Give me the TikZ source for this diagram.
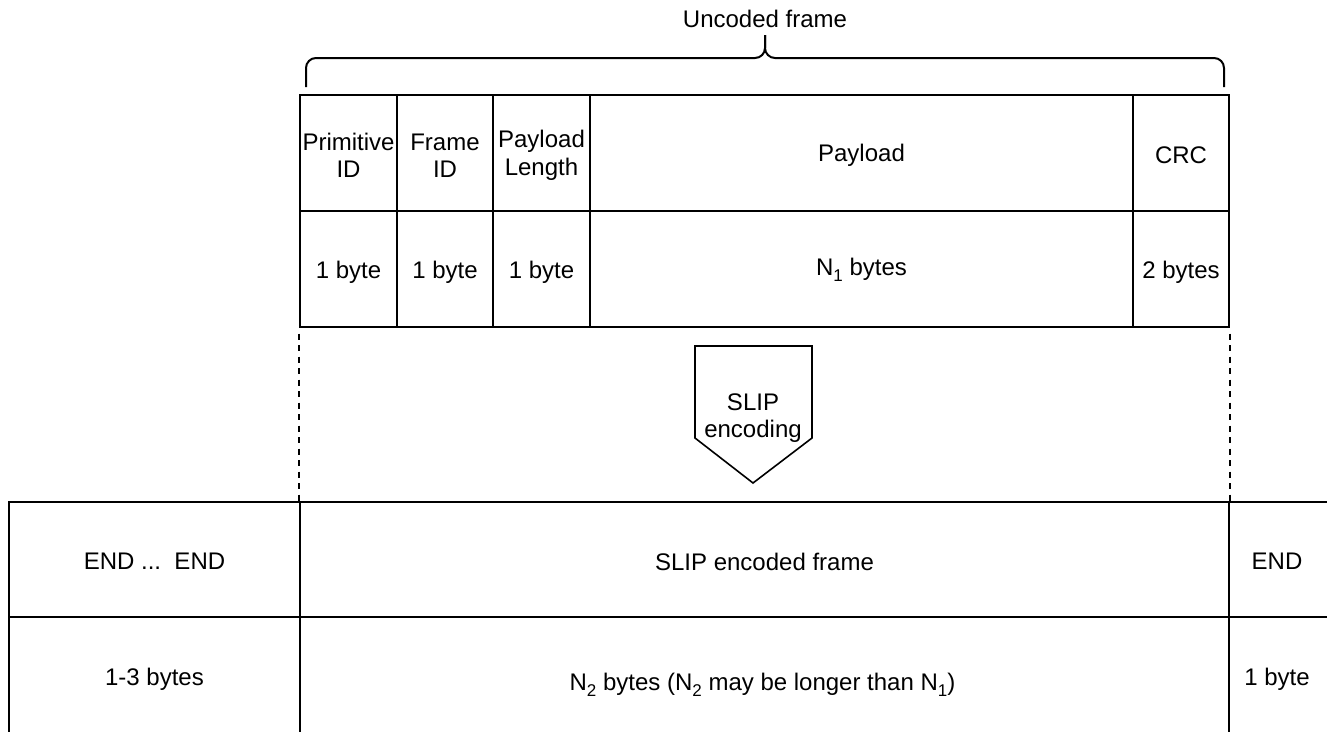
\documentclass[tikz,border=0pt]{standalone}
\usepackage{fontspec}
\setmainfont{Liberation Sans}
\newcommand\subs[1]{\raisebox{-6pt}{\fontsize{17}{17}\selectfont #1}}
\begin{document}
\begin{tikzpicture}[x=1pt,y=-1pt,
  lbl/.style={font=\fontsize{24}{27.5}\selectfont, align=center, inner sep=0pt},
  cell/.style={draw, line width=2pt, inner sep=0pt, anchor=center},
  guide/.style={line width=1.6pt, dash pattern=on 6pt off 5.5pt, dash phase=6pt},
  bracestroke/.style={line width=2pt, rounded corners=10pt}]
\clip (0,0) rectangle (1327,731);
\fill[white] (0,0) rectangle (1327,731);
% uncoded frame, top row
\node[cell, minimum width=97pt, minimum height=116pt] (pid)  at (348.5,153) {};
\node[cell, minimum width=96pt, minimum height=116pt] (fid)  at (445,153)   {};
\node[cell, minimum width=97pt, minimum height=116pt] (plen) at (541.5,153) {};
\node[cell, minimum width=543pt, minimum height=116pt] (pay) at (861.5,153) {};
\node[cell, minimum width=96pt, minimum height=116pt] (crc)  at (1181,153)  {};
\node[lbl] (pidt)  at ([yshift=-2.5pt]pid.center)  {Primitive\\ID};
\node[lbl] (fidt)  at ([yshift=-2.5pt]fid.center)  {Frame\\ID};
\node[lbl] (plent) at ([yshift=-2.5pt]plen.center) {Payload\\Length};
\node[lbl] (payt)  at ([yshift=-2pt]pay.center)  {Payload};
\node[lbl] (crct)  at ([yshift=-2pt]crc.center)  {CRC};
% uncoded frame, sizes
\node[cell, minimum width=97pt, minimum height=116pt] (pidb)  at (348.5,269) {};
\node[cell, minimum width=96pt, minimum height=116pt] (fidb)  at (445,269)   {};
\node[cell, minimum width=97pt, minimum height=116pt] (plenb) at (541.5,269) {};
\node[cell, minimum width=543pt, minimum height=116pt] (payb) at (861.5,269) {};
\node[cell, minimum width=96pt, minimum height=116pt] (crcb)  at (1181,269)  {};
\node[lbl] (pidbt)  at ([yshift=-3pt]pidb.center)  {1 byte};
\node[lbl] (fidbt)  at ([yshift=-3pt]fidb.center)  {1 byte};
\node[lbl] (plenbt) at ([yshift=-3pt]plenb.center) {1 byte};
\node[lbl] (paybt)  at ([yshift=-1pt]payb.center)  {N\subs{1} bytes};
\node[lbl] (crcbt)  at ([yshift=-3pt]crcb.center)  {2 bytes};
% brace
\coordinate (brl) at (306,87);
\coordinate (brr) at (1224,87);
\coordinate (brtip) at (765,35);
\draw[bracestroke] (brl) -- (306,58) -- (765,58) -- (brtip);
\draw[bracestroke] (brtip) -- (765,58) -- (1224,58) -- (brr);
\node[lbl] (title) at (765,19) {Uncoded frame};
% encoded frame
\node[cell, minimum width=291pt, minimum height=115pt] (endl) at (154.5,559.5) {};
\node[cell, minimum width=929pt, minimum height=115pt] (slip) at (764.5,559.5) {};
\node[cell, minimum width=100pt, minimum height=115pt] (endr) at (1279,559.5) {};
\node[cell, minimum width=291pt, minimum height=116pt] (endlb) at (154.5,675) {};
\node[cell, minimum width=929pt, minimum height=116pt] (slipb) at (764.5,675) {};
\node[cell, minimum width=100pt, minimum height=116pt] (endrb) at (1279,675) {};
\node[lbl] (endlt) at ([yshift=-2pt]endl.center) {END ...\ \ END};
\node[lbl] (slipt) at ([yshift=-2pt]slip.center) {SLIP encoded frame};
\node[lbl] (endrt) at ([yshift=-2pt,xshift=-2pt]endr.center) {END};
\node[lbl] (endlbt) at ([yshift=-4pt]endlb.center) {1-3 bytes};
\node[lbl] (slipbt) at ([yshift=-10pt,xshift=-2pt]slipb.center) {N\subs{2} bytes (N\subs{2} may be longer than N\subs{1})};
\node[lbl] (endrbt) at ([yshift=-4pt,xshift=-2pt]endrb.center) {1 byte};
% guides
\draw[guide] (pidb.south west) -- (slip.north west);
\draw[guide] (crcb.south east) -- (slip.north east);
% encoding arrow
\draw[line width=1.6pt, line join=miter] (695,346) -- (812,346) -- (812,438) -- (753,483) -- (695,438) -- cycle;
\node[lbl] (enc) at (753,418) {SLIP\\encoding};
\end{tikzpicture}
\end{document}
